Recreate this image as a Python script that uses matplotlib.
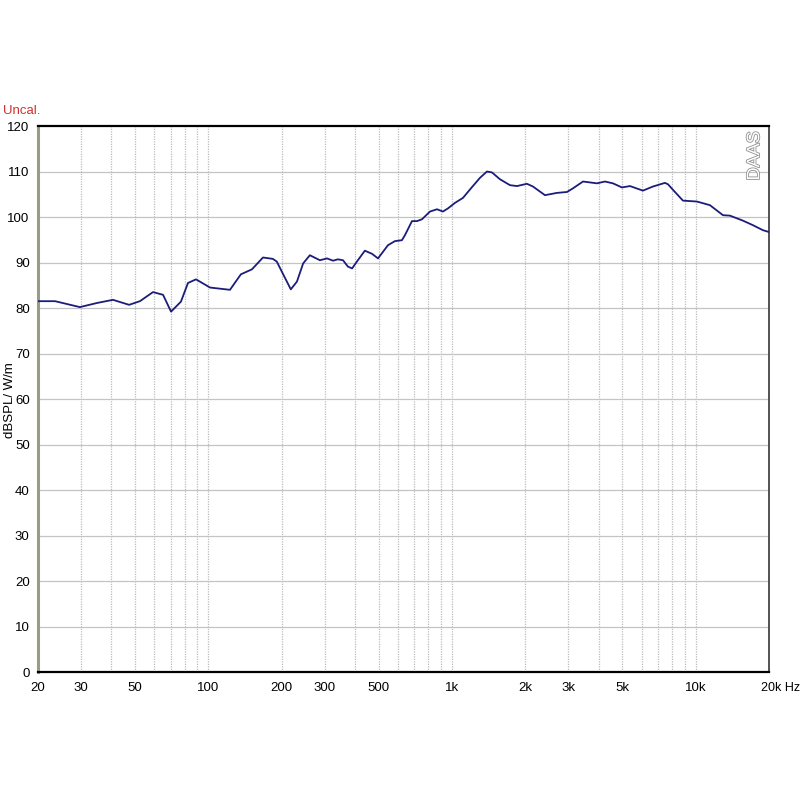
import matplotlib.pyplot as plt
import matplotlib.transforms as mtransforms
import matplotlib.patheffects as pe
from matplotlib.ticker import FixedLocator, NullFormatter, NullLocator

plt.rcParams['font.family'] = ['Liberation Sans', 'DejaVu Sans']

# frequency response (Hz, dB SPL)
freq = [20, 23.5, 29.7, 34.9, 40.6, 47.3, 52.4, 59.3, 65.2, 70.3, 77.2, 82.5, 89,
        101.6, 122.7, 136, 151, 167.6, 184, 191, 202, 218, 231, 245, 261, 287,
        307, 325, 340, 357, 374, 389, 407, 439, 470, 497, 546, 583, 623, 641,
        685, 718, 753, 812, 868, 918, 963, 1028, 1109, 1196, 1302, 1391, 1459,
        1573, 1729, 1847, 2030, 2149, 2407, 2696, 2964, 3136, 3448, 3934, 4243,
        4576, 4982, 5374, 6075, 6678, 7478, 7694, 8222, 8866, 10118, 11442,
        12938, 13822, 15630, 17178, 18883, 20000]
spl = [81.5, 81.5, 80.2, 81.1, 81.8, 80.7, 81.5, 83.5, 82.9, 79.2, 81.4, 85.5, 86.3,
       84.5, 84.0, 87.4, 88.5, 91.1, 90.8, 90.2, 87.6, 84.1, 85.8, 89.8, 91.6, 90.5,
       90.9, 90.4, 90.7, 90.5, 89.1, 88.7, 90.2, 92.6, 91.9, 90.9, 93.8, 94.7, 94.9,
       96.0, 99.1, 99.1, 99.5, 101.2, 101.7, 101.2, 101.9, 103.1, 104.2, 106.3,
       108.6, 110.0, 109.8, 108.3, 107.0, 106.8, 107.3, 106.7, 104.8, 105.3, 105.5,
       106.3, 107.8, 107.4, 107.8, 107.4, 106.5, 106.8, 105.8, 106.7, 107.5, 107.2,
       105.5, 103.6, 103.4, 102.6, 100.4, 100.3, 99.2, 98.2, 97.1, 96.7]

xtick_vals = [20, 30, 50, 100, 200, 300, 500, 1000, 2000, 3000, 5000, 10000, 20000]
xtick_labels = ['20', '30', '50', '100', '200', '300', '500', '1k', '2k', '3k', '5k', '10k', '20k Hz']
grid_freqs = [30, 40, 50, 60, 70, 80, 90, 100, 200, 300, 400, 500, 600, 700, 800, 900,
              1000, 2000, 3000, 4000, 5000, 6000, 7000, 8000, 9000, 10000]
ytick_vals = list(range(0, 121, 10))

fig = plt.figure(figsize=(8, 7.95), dpi=100)
ax = fig.add_axes([0.0475, 0.1547, 0.9138, 0.6868])

ax.set_xscale('log')
ax.set_xlim(20, 20000)
ax.set_ylim(0, 120)

# grid
for f in grid_freqs:
    ax.axvline(f, color='#bcbcbc', linestyle=(0, (1, 1)), linewidth=0.9, zorder=1)
for v in ytick_vals[1:-1]:
    ax.axhline(v, color='#c4c4c4', linewidth=0.9, zorder=1)

ax.plot(freq, spl, color='#1c1c7a', linewidth=1.3, zorder=3)

ax.xaxis.set_major_locator(FixedLocator(xtick_vals))
ax.xaxis.set_minor_locator(NullLocator())
ax.xaxis.set_minor_formatter(NullFormatter())
ax.set_xticklabels(xtick_labels)
ax.set_yticks(ytick_vals)
ax.tick_params(axis='both', length=0, labelsize=9.5, colors='black')
ax.tick_params(axis='x', pad=7)
ax.tick_params(axis='y', pad=6)
lab = ax.get_xticklabels()[-1]
lab.set_horizontalalignment('left')
lab.set_fontsize(9)
lab.set_transform(lab.get_transform() + mtransforms.ScaledTranslation(-0.08, 0, fig.dpi_scale_trans))

# frame
ax.spines['left'].set_color('#9a9a88')
ax.spines['left'].set_linewidth(2.2)
ax.spines['top'].set_color('black')
ax.spines['top'].set_linewidth(1.6)
ax.spines['bottom'].set_color('black')
ax.spines['bottom'].set_linewidth(1.6)
ax.spines['right'].set_color('#444444')
ax.spines['right'].set_linewidth(1.3)

fig.text(0.013, 0.497, 'dBSPL/ W/m', rotation=90, fontsize=9.5, ha='center', va='center')
fig.text(0.004, 0.853, 'Uncal.', color='#d03030', fontsize=9.5, ha='left', va='bottom')
ax.text(0.992, 0.99, 'DAAS', transform=ax.transAxes, rotation=90, ha='right', va='top',
        fontsize=13, color='white',
        path_effects=[pe.withStroke(linewidth=1.2, foreground='#909090')])

fig.savefig('out.png', dpi=100)
